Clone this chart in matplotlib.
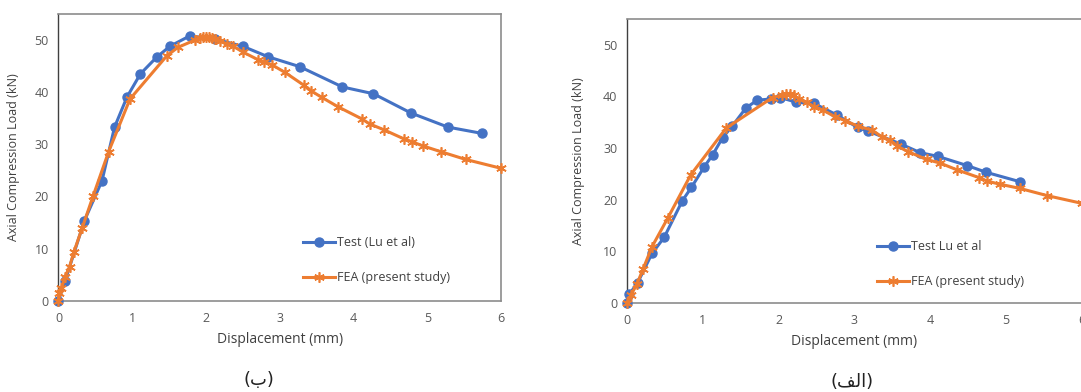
import numpy as np
import matplotlib.pyplot as plt

plt.rcParams['font.family'] = ['Open Sans', 'DejaVu Sans']

# (ب) - left panel
test_b_x = [0.0, 0.09, 0.35, 0.59, 0.76, 0.93, 1.11, 1.33, 1.51, 1.78, 2.12,
            2.50, 2.84, 3.27, 3.85, 4.27, 4.78, 5.28, 5.74]
test_b_y = [0.0, 3.8, 15.3, 23.0, 33.3, 39.1, 43.5, 46.7, 48.8, 50.8, 50.2,
            48.8, 46.8, 44.9, 41.0, 39.7, 36.0, 33.3, 32.1]
fea_b_x = [0.0, 0.01, 0.04, 0.09, 0.15, 0.21, 0.32, 0.47, 0.68, 0.97, 1.47,
           1.62, 1.85, 1.92, 1.96, 2.00, 2.04, 2.08, 2.12, 2.19, 2.28, 2.37,
           2.50, 2.71, 2.79, 2.90, 3.07, 3.33, 3.42, 3.57, 3.79, 4.11, 4.22,
           4.41, 4.69, 4.79, 4.94, 5.18, 5.52, 6.00]
fea_b_y = [0.0, 1.4, 2.4, 4.6, 6.5, 9.4, 13.9, 20.1, 28.6, 38.7, 47.0,
           48.6, 50.0, 50.4, 50.5, 50.5, 50.5, 50.4, 50.2, 49.8, 49.3, 48.8,
           47.7, 46.2, 45.8, 45.2, 43.8, 41.3, 40.3, 39.0, 37.2, 34.9, 33.9,
           32.8, 31.0, 30.5, 29.7, 28.6, 27.1, 25.4]

# (الف) - right panel
test_a_x = [0.0, 0.03, 0.14, 0.33, 0.49, 0.73, 0.85, 1.02, 1.13, 1.26, 1.39,
            1.57, 1.72, 1.90, 2.02, 2.23, 2.46, 2.77, 3.04, 3.18, 3.61, 3.87,
            4.10, 4.49, 4.74, 5.18]
test_a_y = [0.0, 1.7, 3.9, 9.6, 12.7, 19.8, 22.4, 26.4, 28.7, 32.0, 34.3,
            37.8, 39.3, 39.5, 39.8, 38.9, 38.7, 36.4, 34.0, 33.3, 30.8, 29.1,
            28.4, 26.6, 25.3, 23.5]
fea_a_x = [0.0, 0.05, 0.13, 0.21, 0.33, 0.54, 0.84, 1.31, 1.92, 2.05, 2.10,
           2.15, 2.20, 2.27, 2.37, 2.46, 2.59, 2.74, 2.88, 3.05, 3.23, 3.36,
           3.47, 3.56, 3.71, 3.95, 4.13, 4.35, 4.64, 4.75, 4.92, 5.18, 5.54,
           6.00]
fea_a_y = [0.0, 1.5, 3.6, 6.5, 10.9, 16.5, 24.8, 33.9, 39.8, 40.3, 40.5,
           40.4, 40.2, 39.5, 38.9, 38.0, 37.3, 36.1, 35.3, 34.2, 33.5, 32.2,
           31.5, 30.4, 29.3, 27.8, 27.1, 25.8, 24.3, 23.6, 23.0, 22.2, 20.8,
           19.3]

blue = '#4472C4'
orange = '#ED7D31'
star = (6, 2, 0)

fig = plt.figure(figsize=(10.81, 3.92), dpi=100)
ax_b = fig.add_axes([0.0541, 0.2329, 0.4094, 0.7314])
ax_a = fig.add_axes([0.5800, 0.2270, 0.4209, 0.7245])


def style(ax, test, fea, leg_x, leg_y, test_label):
    ax.plot(test[0], test[1], '-', color=blue, lw=2.2, marker='o',
            ms=6.5, label=test_label, clip_on=False, zorder=3)
    ax.plot(fea[0], fea[1], '-', color=orange, lw=2.2, marker=star,
            ms=7.5, mew=1.2, label='FEA (present study)', clip_on=False,
            zorder=4)
    ax.set_xlim(0, 6)
    ax.set_ylim(0, 55)
    ax.set_xticks(range(7))
    ax.set_yticks(range(0, 51, 10))
    ax.tick_params(length=0, labelsize=9, colors='#595959')
    ax.tick_params(axis='x', pad=8)
    ax.tick_params(axis='y', pad=7)
    for s in ['top', 'right', 'bottom']:
        ax.spines[s].set_color('#8c8c8c')
        ax.spines[s].set_linewidth(1.2)
    ax.spines['left'].set_color('#404040')
    ax.spines['left'].set_linewidth(1.0)
    ax.set_xlabel('Displacement (mm)', fontsize=10, color='#404040')
    ax.set_ylabel('Axial Compression Load (kN)', fontsize=9, color='#404040')
    ax.yaxis.set_label_coords(-0.087, 0.5)
    ax.xaxis.set_label_coords(0.5, -0.11)
    leg = ax.legend(loc='upper left', bbox_to_anchor=(leg_x, leg_y),
                    frameon=False, fontsize=9, handlelength=2.6,
                    handletextpad=0.1, labelspacing=1.75, borderpad=0,
                    borderaxespad=0)
    for t in leg.get_texts():
        t.set_color('#404040')


style(ax_b, (test_b_x, test_b_y), (fea_b_x, fea_b_y), 0.552, 0.225,
      'Test (Lu et al)')
style(ax_a, (test_a_x, test_a_y), (fea_a_x, fea_a_y), 0.549, 0.221,
      'Test Lu et al')
ax_a.yaxis.set_label_coords(-0.092, 0.5)

fig.text(259 / 1081, 1 - 380 / 392, '(\u0628)', ha='center', va='center',
         fontsize=13, color='#222222', family=['DejaVu Sans'])
fig.text(852 / 1081, 1 - 382 / 392, '(\uFED2\uFEDF\u0627)', ha='center',
         va='center', fontsize=13, color='#222222', family=['DejaVu Sans'])

fig.savefig('out.png', dpi=100)
